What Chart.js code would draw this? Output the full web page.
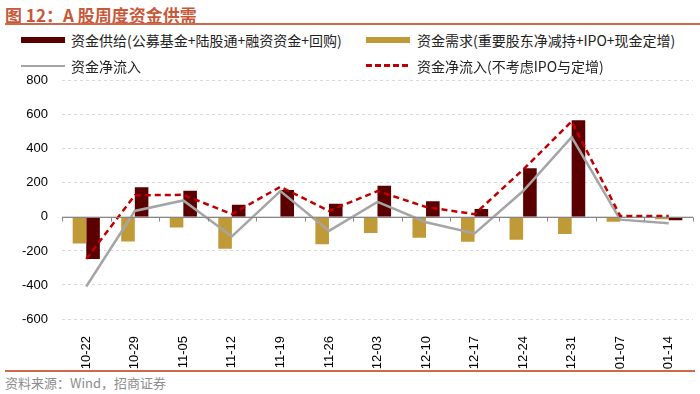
<!DOCTYPE html>
<html>
<head>
<meta charset="utf-8">
<script src="https://cdn.jsdelivr.net/npm/chart.js@4/dist/chart.umd.min.js"></script>
<style>
  html, body { margin: 0; padding: 0; background: #fff; }
  #wrap { position: relative; width: 700px; height: 394px; overflow: hidden; font-family: "Noto Sans CJK SC", "Liberation Sans", sans-serif; }
  #title { position: absolute; left: 5px; top: 2px; font-size: 17px; font-weight: bold; color: #C8583A; white-space: nowrap; }
  #rule-top { position: absolute; left: 5px; right: 0; top: 23px; height: 2px; background: #D0694A; }
  #rule-bot { position: absolute; left: 5px; right: 5px; top: 370px; height: 2px; background: #D0694A; }
  #source { position: absolute; left: 5px; top: 373px; font-size: 13px; color: #8C8C8C; white-space: nowrap; }
  .lg { position: absolute; font-size: 14px; color: #222; white-space: nowrap; line-height: 18px; }
  .sw { position: absolute; }
  #chart-box { position: absolute; left: 0; top: 59px; width: 700px; height: 311px; }
</style>
</head>
<body>
<div id="wrap">
  <div id="title">图 12：A 股周度资金供需</div>
  <div id="rule-top"></div>

  <div id="chart-box"><canvas id="c"></canvas></div>

  <div class="sw" style="left:21px;top:37px;width:44px;height:6px;background:#5B0000"></div>
  <div class="lg" style="left:71px;top:31px">资金供给(公募基金+陆股通+融资资金+回购)</div>
  <div class="sw" style="left:366px;top:37px;width:44px;height:6px;background:#C19A38"></div>
  <div class="lg" style="left:417px;top:31px">资金需求(重要股东净减持+IPO+现金定增)</div>
  <div class="sw" style="left:21px;top:65px;width:44px;height:2px;background:#A5A5A5"></div>
  <div class="lg" style="left:71px;top:57px">资金净流入</div>
  <div class="sw" style="left:366px;top:64px;width:44px;height:3px;background:repeating-linear-gradient(90deg,#C00000 0 6px,transparent 6px 9px)"></div>
  <div class="lg" style="left:417px;top:57px">资金净流入(不考虑IPO与定增)</div>

  <div id="rule-bot"></div>
  <div id="source">资料来源：Wind，招商证券</div>
</div>
<script>
const WEEKS   = ["10-22", "10-29", "11-05", "11-12", "11-19", "11-26", "12-03", "12-10", "12-17", "12-24", "12-31", "01-07", "01-14"];
const SUPPLY  = [-247, 175, 154, 72, 158, 78, 183, 92, 47, 286, 568, 3, -19];
const DEMAND  = [-156, -144, -62, -187, -3, -160, -95, -123, -146, -134, -101, -29, -13];
const NET     = [-409, 35, 97, -115, 152, -82, 88, -31, -97, 152, 469, -16, -37];
const NET_EX  = [-247, 127, 130, 16, 177, 35, 152, 58, 16, 278, 561, 6, 6];
const Y_MIN = -600, Y_MAX = 800, Y_STEP = 200;

// zero line + downward category ticks, drawn over the bars
const zeroAxis = {
  id: "zeroAxis",
  afterDatasetsDraw(chart) {
    const { ctx, scales: { y }, chartArea } = chart;
    const y0 = Math.round(y.getPixelForValue(0)) + 0.5;
    const n = WEEKS.length;
    const w = (chartArea.right - chartArea.left) / n;
    ctx.save();
    ctx.strokeStyle = "#868686";
    ctx.lineWidth = 1;
    ctx.beginPath();
    ctx.moveTo(chartArea.left, y0);
    ctx.lineTo(chartArea.right, y0);
    for (let i = 0; i <= n; i++) {
      const px = Math.round(chartArea.left + i * w) + 0.5;
      ctx.moveTo(px, y0);
      ctx.lineTo(px, y0 + 4);
    }
    ctx.stroke();
    ctx.restore();
  },
};

new Chart(document.getElementById("c"), {
  type: "bar",
  data: {
    labels: WEEKS,
    datasets: [
      { type: "line", label: "资金净流入(不考虑IPO与定增)", data: NET_EX, borderColor: "#C00000", borderWidth: 2.5, borderDash: [6, 4], pointRadius: 0, tension: 0, order: 0 },
      { type: "line", label: "资金净流入", data: NET, borderColor: "#A5A5A5", borderWidth: 2.5, pointRadius: 0, tension: 0, order: 0 },
      { label: "资金需求(重要股东净减持+IPO+现金定增)", data: DEMAND, backgroundColor: "#C19A38", order: 1 },
      { label: "资金供给(公募基金+陆股通+融资资金+回购)", data: SUPPLY, backgroundColor: "#5B0000", order: 1 },
    ],
  },
  options: {
    responsive: true,
    maintainAspectRatio: false,
    animation: false,
    layout: { padding: { top: 9, right: 7, left: 0, bottom: 0 } },
    datasets: { bar: { categoryPercentage: 0.56, barPercentage: 1 } },
    plugins: { legend: { display: false }, tooltip: { enabled: false } },
    scales: {
      x: {
        grid: { display: false },
        border: { display: false },
        ticks: { color: "#000", font: { family: "'Liberation Sans', Arial", size: 13 }, minRotation: 90, maxRotation: 90, padding: 9 },
        afterFit(s) { s.height = 51; },
      },
      y: {
        min: Y_MIN, max: Y_MAX,
        grid: { color: "#D9D9D9", drawTicks: false },
        border: { display: false, dash: (c) => (c.tick && c.tick.value === 0 ? [] : [3, 3]) },
        ticks: { stepSize: Y_STEP, color: "#000", font: { family: "'Liberation Sans', Arial", size: 13 }, padding: 14 },
        afterFit(s) { s.width = 62; },
      },
    },
  },
  plugins: [zeroAxis],
});
</script>
</body>
</html>
